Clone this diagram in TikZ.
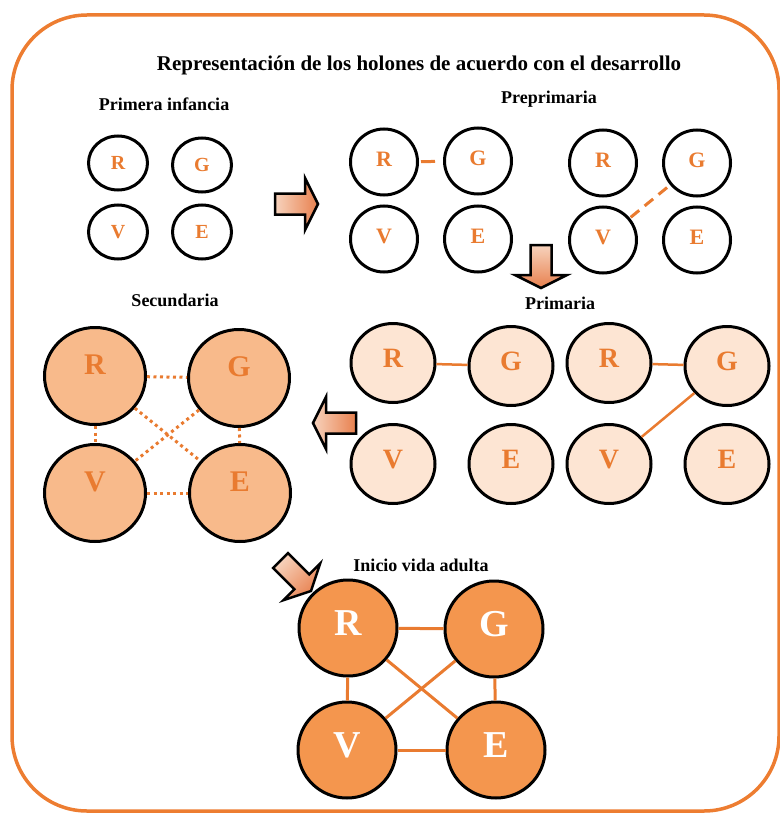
\documentclass[tikz,border=0pt]{standalone}
\usepackage{fontspec}
\setmainfont{Liberation Serif}
\usetikzlibrary{shapes.geometric}
\definecolor{holonorange}{HTML}{E97B30}
\definecolor{framecolor}{HTML}{ED7D31}
\definecolor{prifill}{HTML}{FDE5D3}
\definecolor{secfill}{HTML}{F8BA8B}
\definecolor{adufill}{HTML}{F4964E}
\definecolor{arrowlight}{HTML}{F7D3BD}
\definecolor{arrowdark}{HTML}{E8804E}
% tip at #1, turned by #2, shading in #3
\newcommand{\holonarrow}[3]{\path[arrowbody,shift={#1},rotate=#2,#3] (0,0) -- (-13,-26) -- (-13,-10.5) -- (-43,-10.5) -- (-43,10.5) -- (-13,10.5) -- (-13,26) -- cycle;}
\begin{document}
\begin{tikzpicture}[x=1pt,y=-1pt,
 holon/.style={ellipse,draw=black,line width=3pt,inner sep=0pt,text=holonorange},
 baby/.style={holon,minimum width=59,minimum height=54,font=\fontsize{20}{20}\selectfont\bfseries},
 pre/.style={holon,minimum width=67,minimum height=66,text depth=6pt,font=\fontsize{22}{22}\selectfont\bfseries},
 pri/.style={holon,fill=prifill,minimum width=84,minimum height=79,text depth=10pt,font=\fontsize{28}{28}\selectfont\bfseries},
 sec/.style={holon,fill=secfill,minimum width=101,minimum height=97,text depth=22pt,font=\fontsize{30}{30}\selectfont\bfseries},
 adu/.style={holon,fill=adufill,text=white,minimum width=98,minimum height=96,text depth=10pt,font=\fontsize{38}{38}\selectfont\bfseries},
 heading/.style={font=\fontsize{18}{18}\selectfont\bfseries,anchor=base},
 link/.style={draw=holonorange,line width=3pt},
 arrowbody/.style={draw=black,line width=2.5pt,line join=miter}]
\useasboundingbox (0,0) rectangle (779,813);
\draw[framecolor,line width=3.5pt,rounded corners=75pt] (12,15) rectangle (779,811);

\node[heading,font=\fontsize{21}{21}\selectfont\bfseries] at (419,71) (title) {Representación de los holones de acuerdo con el desarrollo};

% primera infancia
\node[heading] at (164,111) (infancia) {Primera infancia};
\node[baby] at (118,163) (infR) {R};
\node[baby] at (202,165) (infG) {G};
\node[baby] at (118,232) (infV) {V};
\node[baby] at (202,232) (infE) {E};

% preprimaria
\node[heading] at (549,104) (preprimaria) {Preprimaria};
\node[pre] at (384,162) (preR) {R};
\node[pre] at (478,161) (preG) {G};
\node[pre] at (384,239) (preV) {V};
\node[pre] at (478,239) (preE) {E};
\node[pre] at (603,163) (preRb) {R};
\node[pre] at (697,163) (preGb) {G};
\node[pre] at (603,240) (preVb) {V};
\node[pre] at (697,240) (preEb) {E};
\draw[link,dash pattern=on 14pt off 20pt,shorten <=2pt] (preR) -- (preG);
\draw[link,dash pattern=on 11pt off 7pt,shorten <=1pt] (preVb) -- (preGb);

% primaria
\node[heading] at (560,309) (primaria) {Primaria};
\node[pri] at (393,363) (priR) {R};
\node[pri] at (511,366) (priG) {G};
\node[pri] at (393,464) (priV) {V};
\node[pri] at (511,464) (priE) {E};
\node[pri] at (609,363) (priRb) {R};
\node[pri] at (727,366) (priGb) {G};
\node[pri] at (609,464) (priVb) {V};
\node[pri] at (727,464) (priEb) {E};
\draw[link,line width=2.5pt] (priR) -- (priG);
\draw[link,line width=2.5pt] (priRb) -- (priGb);
\draw[link,line width=2.5pt] (priVb) -- (priGb);

% secundaria
\node[heading] at (175,306) (secundaria) {Secundaria};
\node[sec] at (95,376) (secR) {R};
\node[sec] at (239,378) (secG) {G};
\node[sec] at (95,493) (secV) {V};
\node[sec] at (240,493) (secE) {E};
\foreach \a/\b in {R/G,V/E,R/V,G/E,R/E,G/V}
  \draw[link,dash pattern=on 3pt off 3.5pt] (sec\a) -- (sec\b);

% inicio vida adulta
\node[heading] at (421,571) (adulta) {Inicio vida adulta};
\node[adu] at (348,628) (aduR) {R};
\node[adu] at (494,629) (aduG) {G};
\node[adu] at (347,750) (aduV) {V};
\node[adu] at (496,750) (aduE) {E};
\foreach \a/\b in {R/G,V/E,R/V,G/E,R/E,G/V}
  \draw[link] (adu\a) -- (adu\b);

% arrows between stages
\holonarrow{(318,204)}{0}{left color=arrowlight,right color=arrowdark}
\holonarrow{(541,288)}{-90}{top color=arrowlight,bottom color=arrowdark}
\holonarrow{(313,423)}{180}{left color=arrowlight,right color=arrowdark}
\holonarrow{(311,591)}{-45}{top color=arrowlight,bottom color=arrowdark,shading angle=45}
\end{tikzpicture}
\end{document}
